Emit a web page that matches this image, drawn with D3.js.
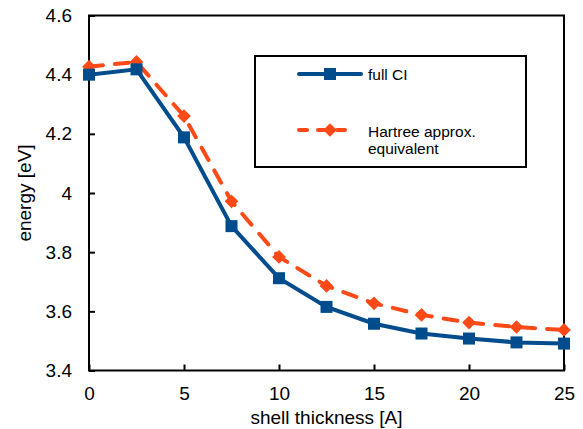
<!DOCTYPE html>
<html>
<head>
<meta charset="utf-8">
<script src="https://cdn.jsdelivr.net/npm/d3@7"></script>
<style>
  body { margin: 0; background: #fff; }
  text { font-family: "Liberation Sans", Arial, sans-serif; fill: #000; }
</style>
</head>
<body>
<div class="d3"></div>
<script>
// chart data
const thickness = [0, 2.5, 5, 7.5, 10, 12.5, 15, 17.5, 20, 22.5, 25];
const fullCI = [4.40, 4.418, 4.188, 3.888, 3.712, 3.615, 3.558, 3.525, 3.508, 3.495, 3.491];
const hartree = [4.427, 4.443, 4.26, 3.972, 3.784, 3.686, 3.627, 3.588, 3.562, 3.547, 3.537];
const xTicks = [0, 5, 10, 15, 20, 25];
const yTicks = [3.4, 3.6, 3.8, 4, 4.2, 4.4, 4.6];

const width = 583, height = 429;
const margin = {left: 89, top: 15.5, right: 19, bottom: 58.5};

const svg = d3.select('div.d3')
    .append('svg')
    .attr('width', width)
    .attr('height', height);

const x = d3.scaleLinear().domain([0, 25]).range([margin.left, width - margin.right]);
const y = d3.scaleLinear().domain([3.4, 4.6]).range([height - margin.bottom, margin.top]);

// plot frame
svg.append('rect')
    .attr('x', x(0)).attr('y', y(4.6))
    .attr('width', x(25) - x(0)).attr('height', y(3.4) - y(4.6))
    .attr('fill', 'none').attr('stroke', '#000').attr('stroke-width', 2);

// axes with inward ticks
svg.append('g')
    .attr('transform', 'translate(0,' + y(3.4) + ')')
    .call(d3.axisBottom(x).tickValues(xTicks).tickSize(-6).tickPadding(16).tickSizeOuter(0))
    .call(g => g.select('.domain').remove())
    .call(g => g.selectAll('line').attr('stroke-width', 2))
    .call(g => g.selectAll('text').attr('font-size', 19).attr('dy', '0.71em'));

svg.append('g')
    .attr('transform', 'translate(' + x(0) + ',0)')
    .call(d3.axisLeft(y).tickValues(yTicks).tickSize(-6).tickPadding(17).tickSizeOuter(0)
        .tickFormat(d => d3.format('')(+d.toFixed(1))))
    .call(g => g.select('.domain').remove())
    .call(g => g.selectAll('line').attr('stroke-width', 2))
    .call(g => g.selectAll('text').attr('font-size', 19));

// axis titles
svg.append('text')
    .attr('x', (x(0) + x(25)) / 2).attr('y', 424)
    .attr('text-anchor', 'middle').attr('font-size', 19)
    .text('shell thickness [A]');

svg.append('text')
    .attr('transform', 'translate(31,' + (y(3.4) + y(4.6)) / 2 + ') rotate(-90)')
    .attr('text-anchor', 'middle').attr('font-size', 19)
    .text('energy [eV]');

const blue = '#004C8C', orange = '#FF4A17';
const line = d3.line().x(d => x(d[0])).y(d => y(d[1]));
const ciData = d3.zip(thickness, fullCI);
const htData = d3.zip(thickness, hartree);

svg.append('path')
    .datum(htData)
    .attr('d', line)
    .attr('fill', 'none').attr('stroke', orange).attr('stroke-width', 4)
    .attr('stroke-linecap', 'round')
    .attr('stroke-dasharray', '14,12');

svg.append('g').selectAll('path')
    .data(htData).enter().append('path')
    .attr('d', d3.symbol(d3.symbolDiamond2, 120))
    .attr('transform', d => 'translate(' + x(d[0]) + ',' + y(d[1]) + ')')
    .attr('fill', orange);

svg.append('path')
    .datum(ciData)
    .attr('d', line)
    .attr('fill', 'none').attr('stroke', blue).attr('stroke-width', 4);

svg.append('g').selectAll('rect')
    .data(ciData).enter().append('rect')
    .attr('x', d => x(d[0]) - 6).attr('y', d => y(d[1]) - 6)
    .attr('width', 12).attr('height', 12)
    .attr('fill', blue);

// legend
const legend = svg.append('g');
legend.append('rect')
    .attr('x', 255).attr('y', 56).attr('width', 271).attr('height', 111)
    .attr('fill', '#fff').attr('stroke', '#000').attr('stroke-width', 2);

legend.append('line')
    .attr('x1', 299).attr('x2', 361).attr('y1', 74).attr('y2', 74)
    .attr('stroke', blue).attr('stroke-width', 4).attr('stroke-linecap', 'round');
legend.append('rect')
    .attr('x', 324).attr('y', 68).attr('width', 12).attr('height', 12).attr('fill', blue);
legend.append('text')
    .attr('x', 368).attr('y', 80).attr('font-size', 15.5).text('full CI');

legend.append('line')
    .attr('x1', 299).attr('x2', 350).attr('y1', 130).attr('y2', 130)
    .attr('stroke', orange).attr('stroke-width', 4).attr('stroke-linecap', 'round')
    .attr('stroke-dasharray', '8,11');
legend.append('path')
    .attr('d', d3.symbol(d3.symbolDiamond2, 120))
    .attr('transform', 'translate(330,130)')
    .attr('fill', orange);
legend.append('text')
    .attr('x', 368).attr('y', 137).attr('font-size', 15.5).text('Hartree approx.');
legend.append('text')
    .attr('x', 368).attr('y', 154).attr('font-size', 15.5).text('equivalent');
</script>
</body>
</html>
